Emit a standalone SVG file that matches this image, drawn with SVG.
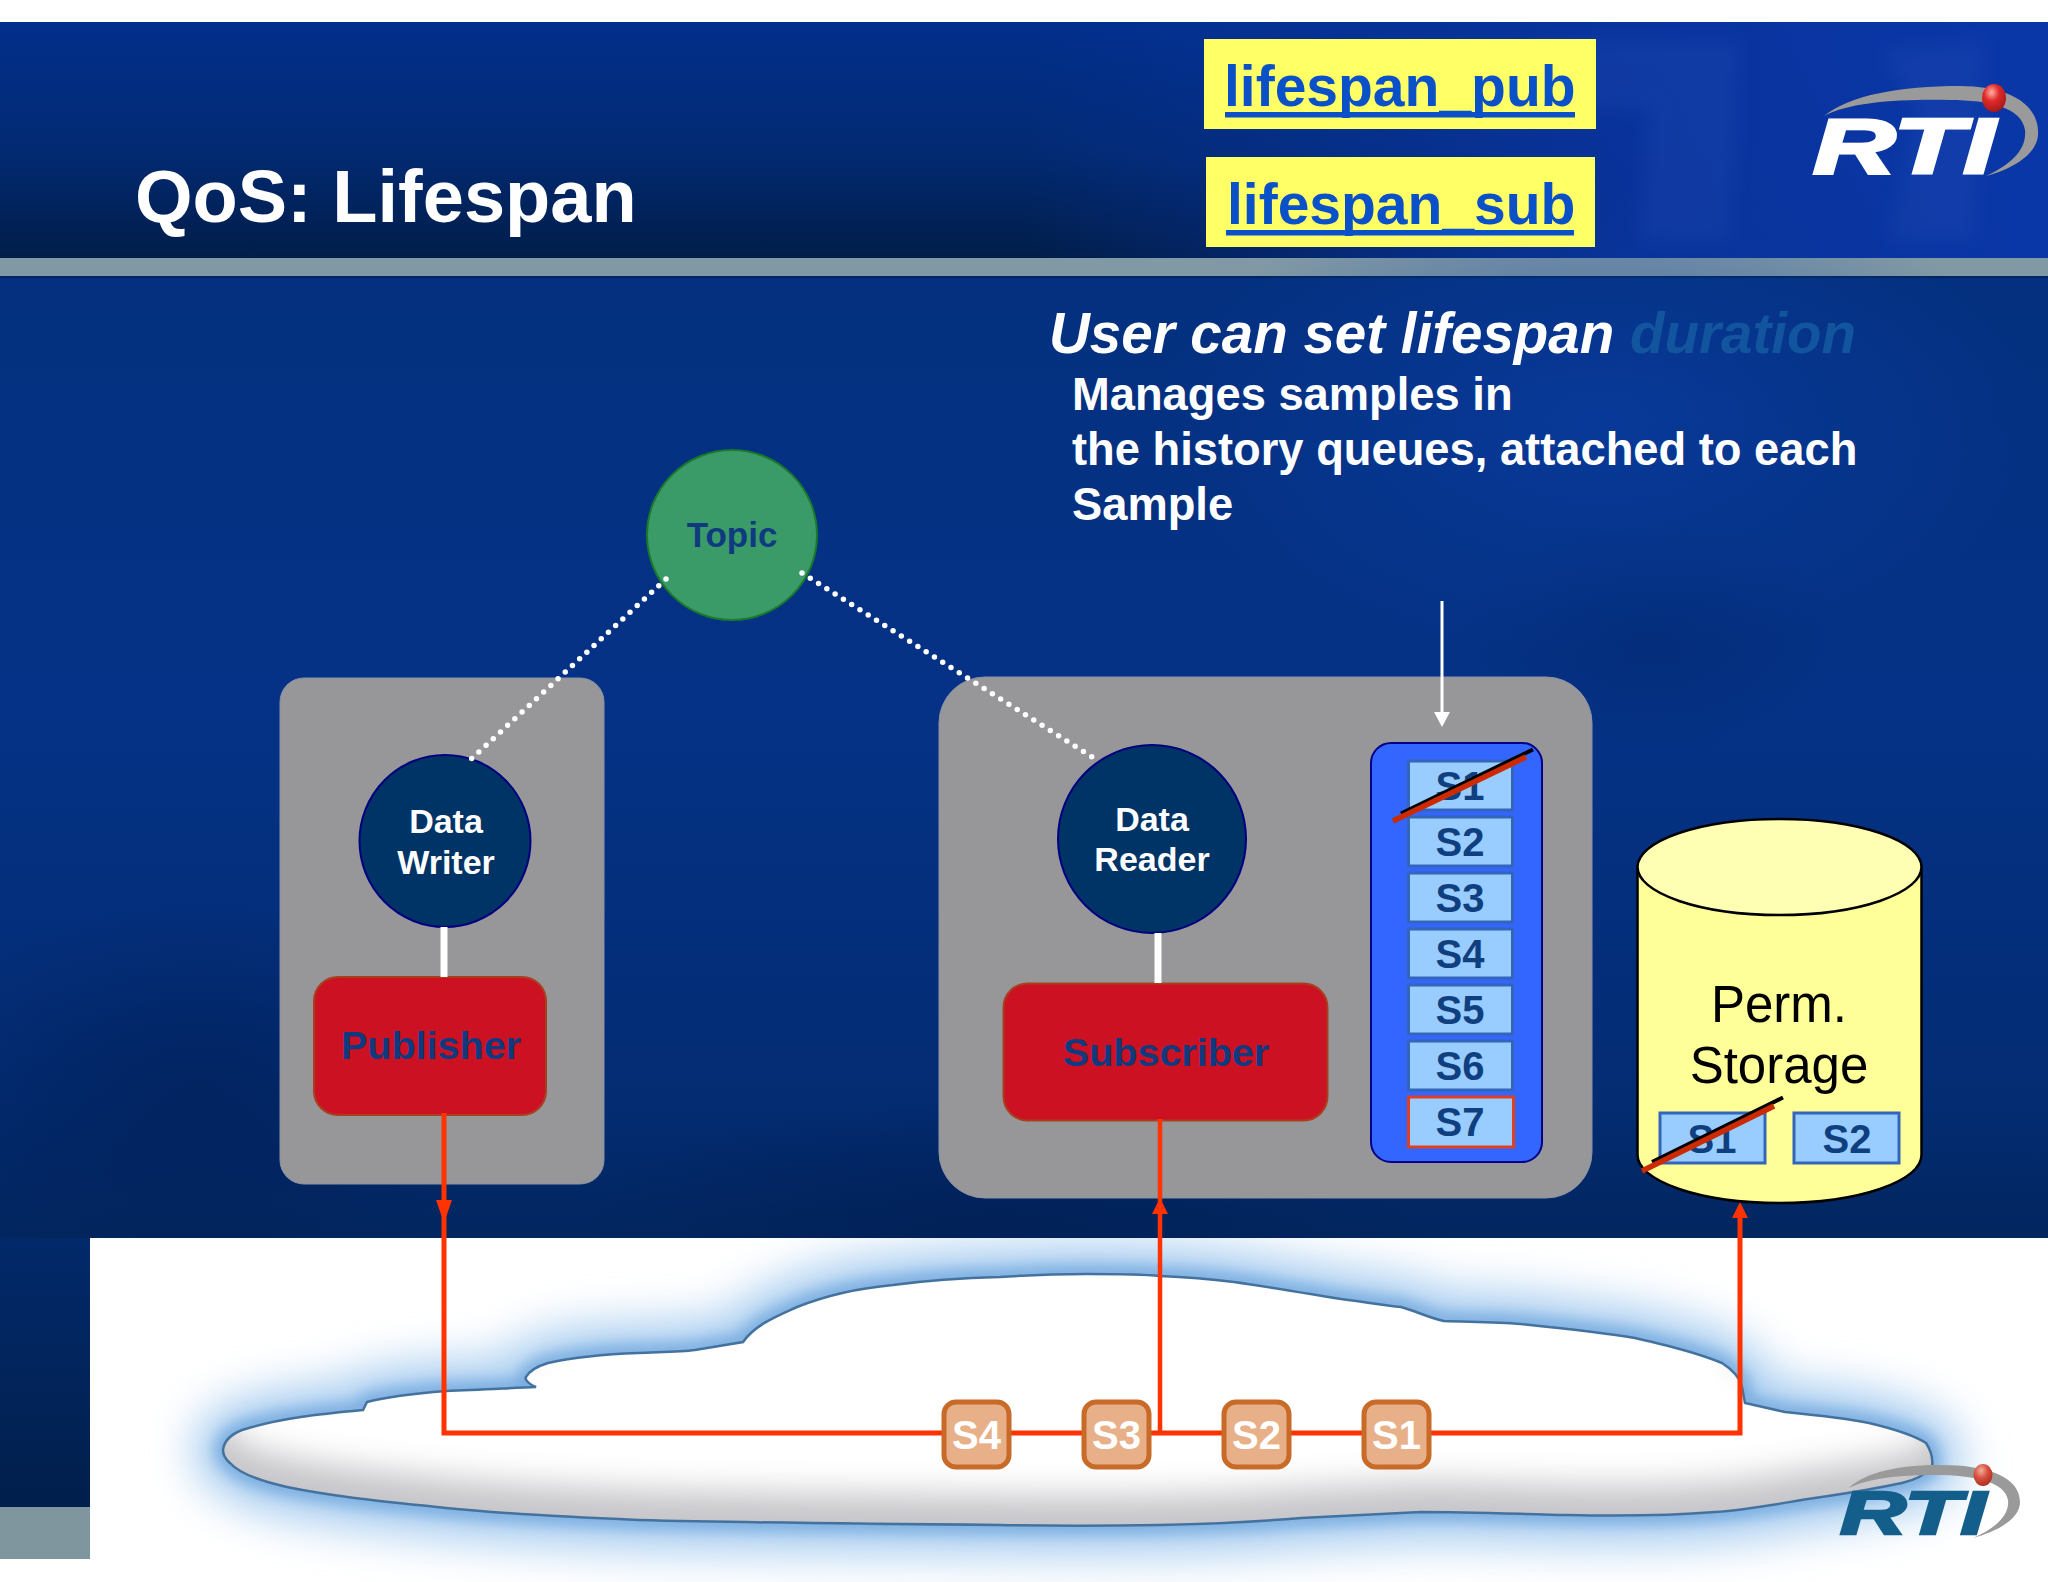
<svg xmlns="http://www.w3.org/2000/svg" width="2048" height="1582" viewBox="0 0 2048 1582">
<defs>
<linearGradient id="hdr" x1="0" y1="0" x2="0" y2="1"><stop offset="0" stop-color="#022f8c"/><stop offset="0.55" stop-color="#022a72"/><stop offset="1" stop-color="#011d48"/></linearGradient>
<linearGradient id="hdrR" x1="0" y1="0" x2="1" y2="0"><stop offset="0.5" stop-color="#0a34a0" stop-opacity="0"/><stop offset="0.8" stop-color="#0a34a0" stop-opacity="0.9"/><stop offset="1" stop-color="#0a37a8" stop-opacity="1"/></linearGradient>
<linearGradient id="body" x1="0" y1="0" x2="0" y2="1"><stop offset="0" stop-color="#04307f"/><stop offset="0.45" stop-color="#053286"/><stop offset="0.85" stop-color="#032c73"/><stop offset="1" stop-color="#02265f"/></linearGradient>
<linearGradient id="strip" x1="0" y1="0" x2="0" y2="1"><stop offset="0" stop-color="#02296a"/><stop offset="1" stop-color="#011f4c"/></linearGradient>
<radialGradient id="dk" cx="0.5" cy="0.5" r="0.5"><stop offset="0" stop-color="#001c50" stop-opacity="0.55"/><stop offset="1" stop-color="#001c50" stop-opacity="0"/></radialGradient>
<radialGradient id="lt" cx="0.5" cy="0.5" r="0.5"><stop offset="0" stop-color="#0a3fa8" stop-opacity="0.6"/><stop offset="1" stop-color="#0a3fa8" stop-opacity="0"/></radialGradient>
<radialGradient id="ball" cx="0.4" cy="0.3" r="0.7"><stop offset="0" stop-color="#ffb0a8"/><stop offset="0.45" stop-color="#e02a2a"/><stop offset="1" stop-color="#a81818"/></radialGradient>
<radialGradient id="ball2" cx="0.4" cy="0.3" r="0.7"><stop offset="0" stop-color="#f0b0a0"/><stop offset="0.5" stop-color="#d85040"/><stop offset="1" stop-color="#b03020"/></radialGradient>
<filter id="bw" x="-10%" y="-60%" width="120%" height="220%"><feGaussianBlur stdDeviation="22"/></filter>
<filter id="b12" x="-10%" y="-40%" width="120%" height="180%"><feGaussianBlur stdDeviation="8"/></filter>
<filter id="b8" x="-10%" y="-30%" width="120%" height="160%"><feGaussianBlur stdDeviation="16"/></filter>
<filter id="b3" x="-20%" y="-20%" width="140%" height="140%"><feGaussianBlur stdDeviation="9"/></filter>
<path id="cl" d="M223,1450 C224,1440 232,1434 242,1430 C280,1418 320,1414 363,1410 L367,1402 C390,1396 420,1393 446,1391 C480,1390 510,1388 536,1387 C526,1383 525,1378 526,1377 C530,1370 538,1366 548,1363 C580,1356 610,1354 638,1353 C660,1352 680,1352 695,1350 L743,1342 C755,1325 775,1317 797,1307 C830,1294 860,1288 893,1285 C930,1280 960,1278 1000,1277 C1030,1275 1060,1274 1087,1274 C1115,1274 1140,1274 1160,1276 C1185,1277 1210,1279 1234,1282 C1270,1287 1310,1294 1341,1299 C1365,1302 1385,1306 1401,1307 C1418,1312 1430,1318 1444,1321 C1470,1322 1495,1322 1521,1324 C1560,1328 1600,1332 1635,1338 C1665,1345 1695,1352 1722,1363 C1733,1370 1740,1378 1742,1387 L1745,1403 C1758,1406 1772,1409 1785,1412 C1815,1415 1845,1418 1869,1423 C1890,1428 1912,1434 1926,1443 C1932,1452 1933,1460 1932,1467 C1925,1475 1915,1480 1902,1483 C1870,1490 1835,1495 1802,1500 C1772,1505 1745,1510 1715,1512 C1665,1516 1615,1516 1568,1515 C1520,1514 1470,1512 1421,1512 C1380,1514 1340,1516 1301,1518 C1255,1522 1205,1524 1160,1525 C1105,1526 1050,1526 1000,1525 C880,1524 760,1523 638,1520 C570,1517 505,1514 446,1508 C390,1502 335,1497 287,1487 C260,1481 240,1474 230,1463 C224,1458 223,1454 223,1450 Z"/>
<clipPath id="clc"><use href="#cl"/></clipPath>
<clipPath id="panel"><rect x="90" y="1238" width="1958" height="344"/></clipPath>
<style>
text{font-family:"Liberation Sans",Arial,sans-serif}
.b{font-weight:700}
.m{text-anchor:middle}
.w{fill:#fff}
.nv{fill:#0f3a80}
.ln{fill:#0a50c8;font-size:57px;font-weight:700}
.ul{fill:#0a50c8}
.yb{fill:#ffff66}
.smp{fill:#99ccff;stroke:#3366bb;stroke-width:3}
.st{fill:#0f3f7f;font-size:40px;font-weight:700;text-anchor:middle}
.bs{fill:#e8b088;stroke:#c86a28;stroke-width:5}
.bt{fill:#fff;font-size:40px;font-weight:700;text-anchor:middle}
.gb{fill:#979698;stroke:#8a93a8;stroke-width:1}
.dc{fill:#003366;stroke:#000080;stroke-width:2}
.rb{fill:#cc1122;stroke:#a84020;stroke-width:2}
.dot{fill:none;stroke:#fff;stroke-width:5.500;stroke-linecap:round;stroke-dasharray:0 9.8}
.red{fill:none;stroke:#ff3300;stroke-width:4.500}
.wl{fill:none;stroke:#fff;stroke-width:7}
</style>
</defs>

<rect width="2048" height="1582" fill="#ffffff"/>
<!-- header -->
<rect x="0" y="22" width="2048" height="237" fill="url(#hdr)"/>
<rect x="0" y="22" width="2048" height="237" fill="url(#hdrR)"/>
<g fill="#2a55bb" opacity="0.22" filter="url(#b3)">
<path d="M1530,40 L1740,40 L1730,240 L1640,240 L1650,110 L1590,110 Z"/>
<path d="M1880,50 L1985,40 L1975,240 L1890,240 L1915,110 Z"/>
</g>
<rect x="0" y="258" width="2048" height="18" fill="#8099a5"/>
<rect x="0" y="276" width="2048" height="2" fill="#03245f"/>
<!-- body -->
<rect x="0" y="278" width="2048" height="960" fill="url(#body)"/>
<ellipse cx="1600" cy="420" rx="440" ry="240" fill="url(#lt)"/>
<ellipse cx="200" cy="1100" rx="300" ry="200" fill="url(#dk)"/>
<ellipse cx="1000" cy="1220" rx="420" ry="120" fill="url(#dk)"/>
<ellipse cx="1650" cy="640" rx="200" ry="120" fill="url(#dk)" opacity="0.35"/>
<rect x="0" y="1238" width="90" height="269" fill="url(#strip)"/>
<rect x="0" y="1507" width="90" height="52" fill="#80969f"/>
<rect x="90" y="1238" width="1958" height="344" fill="#ffffff"/>

<!-- cloud -->
<g id="cloud">
<g clip-path="url(#panel)">
<use href="#cl" fill="none" stroke="#a8cdf0" stroke-width="60" filter="url(#bw)"/>
<use href="#cl" fill="none" stroke="#6ba3dc" stroke-width="14" filter="url(#b12)"/>
</g>
<use href="#cl" fill="#fff"/>
<g clip-path="url(#clc)">
<use href="#cl" fill="#c6c6ca"/>
<use href="#cl" fill="#fff" transform="translate(0,-30)" filter="url(#b8)"/>
</g>
<use href="#cl" fill="none" stroke="#44729f" stroke-width="2.500"/>
</g>

<!-- title -->
<text x="135" y="222" class="b w" font-size="74">QoS: Lifespan</text>
<g id="lifespan_pub"><rect class="yb" x="1204" y="39" width="392" height="90"/><text class="ln" x="1224" y="106">lifespan_pub</text><rect class="ul" x="1225" y="112" width="350" height="5.500"/></g>
<g id="lifespan_sub"><rect class="yb" x="1206" y="157" width="389" height="90"/><text class="ln" x="1227" y="224">lifespan_sub</text><rect class="ul" x="1226" y="230" width="348" height="5.500"/></g>

<!-- header logo -->
<g id="logo_top">
<path d="M1824,116 C1850,95 1900,86 1960,86 C2010,86 2040,105 2038,135 C2037,155 2010,170 1986,176 C2010,165 2027,150 2025,130 C2022,108 1990,100 1950,100 C1900,99 1850,102 1824,116Z" fill="#9a9a9a"/>
<text x="1813" y="173" class="b w" font-size="78" font-style="italic" textLength="182" lengthAdjust="spacingAndGlyphs" stroke="#fff" stroke-width="3">RTI</text>
<ellipse cx="1994" cy="98" rx="12" ry="14" fill="url(#ball)"/>
</g>

<!-- description -->
<text x="1049" y="353" class="b w" font-size="56.500" font-style="italic">User can set lifespan <tspan fill="#12559e">duration</tspan></text>
<text x="1072" y="410" class="b w" font-size="45.300">Manages samples in</text>
<text x="1072" y="465" class="b w" font-size="45.300">the history queues, attached to each</text>
<text x="1072" y="520" class="b w" font-size="45.300">Sample</text>

<!-- boxes -->
<rect id="participant_pub" class="gb" x="280" y="678" width="324" height="506" rx="24"/>
<rect id="participant_sub" class="gb" x="939" y="677" width="653" height="521" rx="46"/>

<!-- nodes -->
<g id="topic"><ellipse cx="732" cy="535" rx="85" ry="85" fill="#3a9a68" stroke="#1a7a2a" stroke-width="2"/><text class="b m nv" x="732" y="547" font-size="35">Topic</text></g>
<g id="data_writer"><ellipse class="dc" cx="445" cy="841" rx="85.500" ry="86"/><text class="b m w" x="446" y="833" font-size="34">Data</text><text class="b m w" x="446" y="874" font-size="34">Writer</text></g>
<g id="data_reader"><ellipse class="dc" cx="1152" cy="839" rx="94" ry="94"/><text class="b m w" x="1152" y="831" font-size="34">Data</text><text class="b m w" x="1152" y="871" font-size="34">Reader</text></g>
<g id="publisher"><rect class="rb" x="314" y="977" width="232" height="138" rx="24"/><text class="b m nv" x="431" y="1059" font-size="39.500">Publisher</text></g>
<g id="subscriber"><rect class="rb" x="1003.500" y="983.500" width="324" height="137" rx="24"/><text class="b m nv" x="1166" y="1066" font-size="39.500">Subscriber</text></g>

<!-- connectors -->
<g id="connectors">
<path class="dot" d="M666,579 L468,762"/>
<path class="dot" d="M802,573 L1097,760"/>
<path class="wl" d="M444,927 V977"/>
<path class="wl" d="M1158,933 V983"/>
<path class="red" d="M444,1113 V1433 H1740 V1215" style="stroke-width:5"/>
<path class="red" d="M1160,1119 V1433"/>
<path d="M444,1223 L436,1200 H452 Z" fill="#ff3300"/>
<path d="M1160,1198 L1168,1214 H1152 Z" fill="#ff3300"/>
<path d="M1740,1202 L1748,1218 H1732 Z" fill="#ff3300"/>
<path d="M1442,601 V716" fill="none" stroke="#fff" stroke-width="3"/>
<path d="M1442,727 L1434,712 H1450 Z" fill="#fff"/>
</g>

<!-- queue -->
<g id="history_queue">
<rect x="1371" y="743" width="171" height="419" rx="20" fill="#3366ff" stroke="#000088" stroke-width="2"/>
<rect class="smp" x="1408.500" y="761" width="104" height="49"/><text class="st" x="1460" y="800">S1</text>
<rect class="smp" x="1408.500" y="817" width="104" height="49"/><text class="st" x="1460" y="856">S2</text>
<rect class="smp" x="1408.500" y="873" width="104" height="49"/><text class="st" x="1460" y="912">S3</text>
<rect class="smp" x="1408.500" y="929" width="104" height="49"/><text class="st" x="1460" y="968">S4</text>
<rect class="smp" x="1408.500" y="985" width="104" height="49"/><text class="st" x="1460" y="1024">S5</text>
<rect class="smp" x="1408.500" y="1041" width="104" height="49"/><text class="st" x="1460" y="1080">S6</text>
<rect x="1408.500" y="1097" width="105" height="50" fill="#99ccff" stroke="#e04020" stroke-width="3"/><text class="st" x="1460" y="1136">S7</text>
<path d="M1401,813.500 L1533,749.500" stroke="#000" stroke-width="4" fill="none"/>
<path d="M1393,821 L1526,757" stroke="#cc2a00" stroke-width="5.500" fill="none"/>
</g>

<!-- storage -->
<g id="perm_storage">
<path d="M1637.500,867 V1155 A142,48 0 0 0 1921.500,1155 V867 Z" fill="#ffff99" stroke="#000" stroke-width="2.500"/>
<ellipse cx="1779.500" cy="867" rx="142" ry="48" fill="#ffffb3" stroke="#000" stroke-width="2.500"/>
<text class="m" x="1779" y="1022" font-size="51" fill="#000">Perm.</text>
<text class="m" x="1779" y="1083" font-size="51" fill="#000">Storage</text>
<rect class="smp" x="1660" y="1113" width="105" height="50"/><text class="st" x="1712" y="1153">S1</text>
<rect class="smp" x="1794" y="1113" width="105" height="50"/><text class="st" x="1847" y="1153">S2</text>
<path d="M1652,1162 L1783,1097.500" stroke="#000" stroke-width="4" fill="none"/>
<path d="M1642,1171 L1774,1106" stroke="#cc2a00" stroke-width="5.500" fill="none"/>
</g>

<!-- bus samples -->
<g id="bus_s4"><rect class="bs" x="944" y="1402" width="65" height="65" rx="12"/><text class="bt" x="976.500" y="1449">S4</text></g>
<g id="bus_s3"><rect class="bs" x="1084" y="1402" width="65" height="65" rx="12"/><text class="bt" x="1116.500" y="1449">S3</text></g>
<g id="bus_s2"><rect class="bs" x="1224" y="1402" width="65" height="65" rx="12"/><text class="bt" x="1256.500" y="1449">S2</text></g>
<g id="bus_s1"><rect class="bs" x="1364" y="1402" width="65" height="65" rx="12"/><text class="bt" x="1396.500" y="1449">S1</text></g>

<!-- bottom logo -->
<g id="logo_bottom">
<path d="M1849,1488 C1865,1472 1900,1465 1940,1465 C1990,1465 2020,1478 2020,1502 C2020,1520 1995,1532 1973,1538 C1992,1530 2010,1517 2008,1500 C2005,1482 1975,1475 1935,1475 C1900,1475 1870,1478 1849,1488Z" fill="#9a9a9a"/>
<text x="1840" y="1534" class="b" fill="#135e8a" stroke="#135e8a" stroke-width="2.500" font-size="61" font-style="italic" textLength="146" lengthAdjust="spacingAndGlyphs">RTI</text>
<ellipse cx="1983" cy="1475" rx="9.500" ry="11" fill="url(#ball2)"/>
</g>
</svg>
